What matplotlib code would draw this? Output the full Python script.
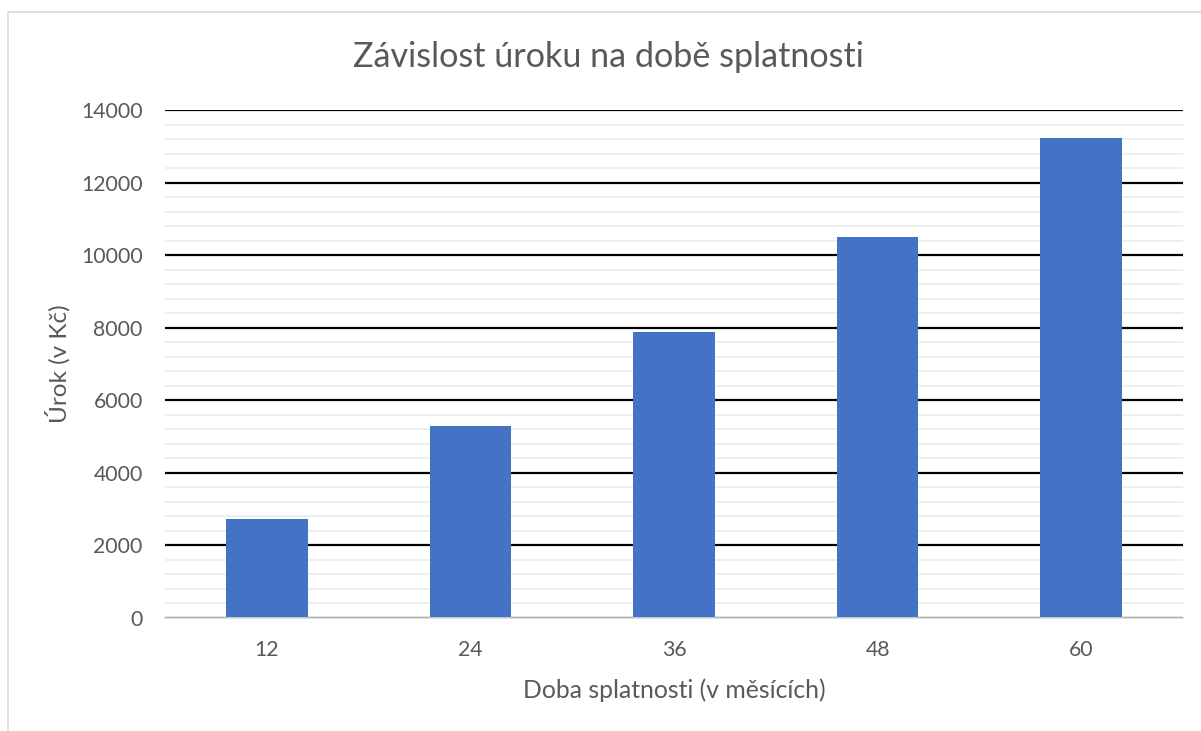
import matplotlib
matplotlib.use("Agg")
import matplotlib.pyplot as plt
from matplotlib.ticker import MultipleLocator
from matplotlib.patches import Rectangle

categories = ["12", "24", "36", "48", "60"]
values = [2720, 5290, 7880, 10500, 13230]
yticks = [0, 2000, 4000, 6000, 8000, 10000, 12000, 14000]

title = "Závislost úroku na době splatnosti"
xlabel = "Doba splatnosti (v měsících)"
ylabel = "Úrok (v Kč)"

plt.rcParams['font.family'] = ['Lato', 'DejaVu Sans']
text_color = "#595959"

fig = plt.figure(figsize=(12.01, 7.31), dpi=100)
ax = fig.add_axes([165/1201, 1 - 618/731, (1183-165)/1201, (618-110)/731])

x = range(len(categories))
ax.bar(x, values, width=0.4, color="#4472C4", zorder=3)
ax.set_xlim(-0.5, len(categories) - 0.5)
ax.set_ylim(0, 14000)
ax.set_xticks(list(x))
ax.set_xticklabels(categories)
ax.set_yticks(yticks)
ax.set_yticklabels([str(v) for v in yticks])
ax.yaxis.set_minor_locator(MultipleLocator(400))

ax.grid(axis='y', which='major', color='black', linewidth=1.6, zorder=1)
ax.grid(axis='y', which='minor', color='#ebebeb', linewidth=1.2, zorder=0)
ax.set_axisbelow(True)
for s in ['top', 'right', 'left']:
    ax.spines[s].set_visible(False)
ax.spines['bottom'].set_color('#d9d9d9')
ax.spines['bottom'].set_linewidth(1.2)
ax.spines['bottom'].set_zorder(4)
ax.tick_params(axis='both', which='both', length=0, colors=text_color, labelsize=15.3)
ax.tick_params(axis='x', pad=16)
ax.tick_params(axis='y', pad=16)

fig.text(0.5 + 8/1201, 1 - 57/731, title, ha='center', va='center', fontsize=24.6, color=text_color)
fig.text((165+1183)/2/1201, 1 - 690/731, xlabel, ha='center', va='center', fontsize=17.8, color=text_color)
fig.text(58/1201, 1 - 364/731, ylabel, ha='center', va='center', rotation=90, fontsize=17.5, color=text_color)

fig.patches.append(Rectangle((8/1201, -0.1), 1.2, 1 - 12/731 + 0.1, transform=fig.transFigure,
                             fill=False, edgecolor='#d9d9d9', linewidth=1.2))

fig.savefig("out.png", dpi=100)
